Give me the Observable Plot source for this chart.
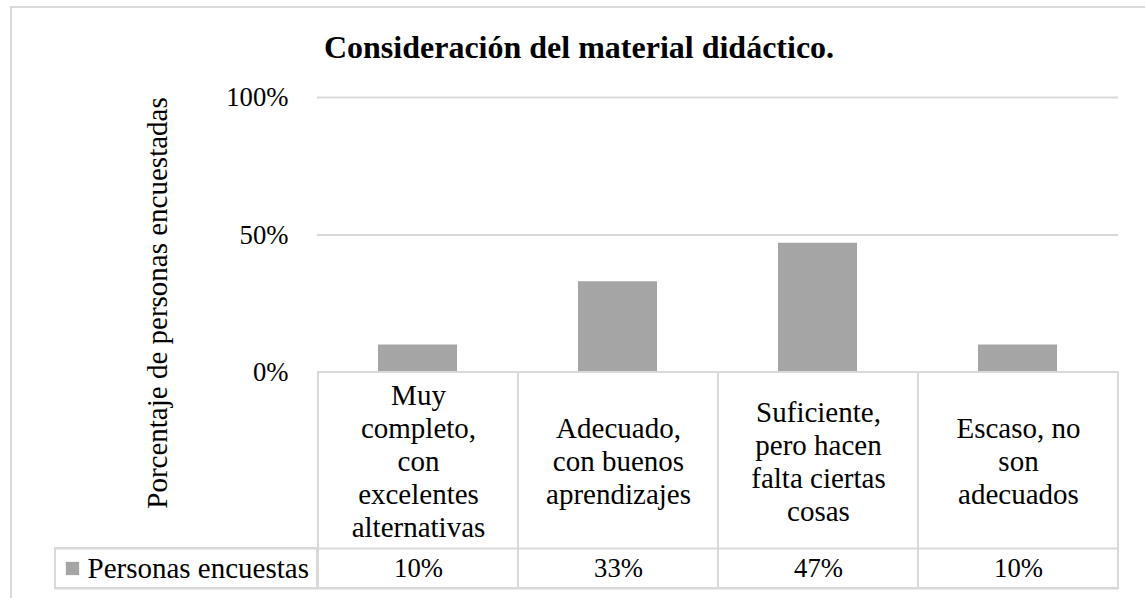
<!DOCTYPE html>
<html>
<head>
<meta charset="utf-8">
<script src="https://cdn.jsdelivr.net/npm/d3@7"></script>
<script src="https://cdn.jsdelivr.net/npm/@observablehq/plot@0.6"></script>
<style>
  html, body { margin: 0; padding: 0; background: #fff; }
  #wrap { position: relative; width: 1145px; height: 598px; overflow: hidden; }
  #border { position: absolute; left: 10px; top: 6px; width: 1200px; height: 700px;
            border-left: 2px solid #d9d9d9; border-top: 2px solid #d9d9d9; box-sizing: border-box; }
  #chart { position: absolute; left: 0; top: 0; }
</style>
</head>
<body>
<div id="wrap"><div id="border"></div><div id="chart"></div></div>
<script>
// ---- data ----
const title = "Consideración del material didáctico.";
const yTitle = "Porcentaje de personas encuestadas";
const seriesName = "Personas encuestas";
const categories = [
  "Muy\ncompleto,\ncon\nexcelentes\nalternativas",
  "Adecuado,\ncon buenos\naprendizajes",
  "Suficiente,\npero hacen\nfalta ciertas\ncosas",
  "Escaso, no\nson\nadecuados"
];
const values = [0.10, 0.33, 0.47, 0.10];
const valueLabels = ["10%", "33%", "47%", "10%"];
const yTicks = [0, 0.5, 1];

// ---- layout ----
const pxPerUnit = 275;                 // pixels per 100%
const labelRowPx = 176, valueRowPx = 40;
const rowSep = -labelRowPx / pxPerUnit;
const tableBottom = -(labelRowPx + valueRowPx) / pxPerUnit;
const labelMid = rowSep / 2;
const valueMid = (rowSep + tableBottom) / 2;
const gray = "#d9d9d9";
const FS = 26.7;
const FS2 = 29;

const rows = categories.map((c, i) => ({cat: c, value: values[i], pct: valueLabels[i]}));

const chart = Plot.plot({
  width: 1145,
  height: 598,
  marginTop: 97,
  marginBottom: 10,
  marginLeft: 317,
  marginRight: 27,
  style: {fontFamily: "'Liberation Serif', 'Times New Roman', serif", fontSize: FS + "px", color: "#000", background: "transparent", overflow: "visible"},
  x: {type: "band", domain: categories, padding: 0, axis: null},
  y: {domain: [tableBottom, 1], axis: null},
  marks: [
    Plot.gridY(yTicks.filter(t => t > 0), {stroke: gray, strokeOpacity: 1, strokeWidth: 2}),
    Plot.axisY({ticks: yTicks, tickFormat: d3.format(".0%"), tickSize: 0, tickPadding: 29, fontSize: FS, label: null}),
    Plot.barY(rows, {x: "cat", y: "value", fill: "#a5a5a5", insetLeft: 60, insetRight: 61}),
    // table cells
    Plot.barY(rows, {x: "cat", y1: 0, y2: tableBottom, fill: "none", stroke: gray, strokeWidth: 2}),
    Plot.ruleY([rowSep, tableBottom], {stroke: gray, strokeWidth: 2, insetLeft: -262}),
    Plot.rect([seriesName], {y1: rowSep, y2: tableBottom, insetLeft: -262, insetRight: 801, fill: "none", stroke: gray, strokeWidth: 2}),
    Plot.text(rows, {x: "cat", y: labelMid, text: "cat", lineHeight: 33 / FS2, fontSize: FS2, fill: "#000"}),
    Plot.text(rows, {x: "cat", y: valueMid, text: "pct", fontSize: FS, fill: "#000"}),
    // legend key
    Plot.dot([seriesName], {y: valueMid, frameAnchor: "left", dx: -245, symbol: "square", r: 7.5, fill: "#a5a5a5"}),
    Plot.text([seriesName], {y: valueMid, frameAnchor: "left", dx: -230, textAnchor: "start", fontSize: FS2, fill: "#000"}),
    // y title
    Plot.text([yTitle], {frameAnchor: "left", textAnchor: "middle", rotate: -90, dx: -160, dy: -40, fontSize: 29, fill: "#000"}),
    // chart title
    Plot.text([title], {frameAnchor: "top", lineAnchor: "middle", dx: -139, dy: -50, fontSize: 32, fontWeight: "bold", fill: "#000"})
  ]
});
document.getElementById("chart").appendChild(chart);
</script>
</body>
</html>
